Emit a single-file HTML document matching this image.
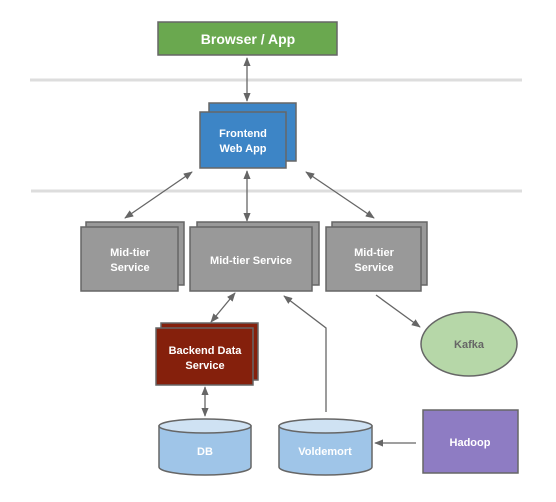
<!DOCTYPE html>
<html><head><meta charset="utf-8"><style>
html,body{margin:0;padding:0;background:#fff;}
svg text{font-family:"Liberation Sans",sans-serif;font-weight:bold;fill:#fff;text-anchor:middle;}
</style></head><body>
<svg width="556" height="497" viewBox="0 0 556 497" xmlns="http://www.w3.org/2000/svg">
<defs>
<marker id="a" viewBox="0 0 10 10" refX="9" refY="5" markerWidth="7" markerHeight="7" orient="auto-start-reverse">
<path d="M0,1 L10,5 L0,9 z" fill="#666"/></marker>
</defs>
<g stroke="#ddd" stroke-width="3">
<line x1="30" y1="80" x2="522" y2="80"/>
<line x1="31" y1="191" x2="522" y2="191"/>
</g>
<rect x="158" y="22" width="179" height="33" fill="#6aa84f" stroke="#666" stroke-width="1.5"/>
<text x="248" y="44" font-size="14">Browser / App</text>

<rect x="209" y="103" width="87" height="58" fill="#3d85c6" stroke="#666" stroke-width="1.5"/>
<rect x="200" y="112" width="86" height="56" fill="#3d85c6" stroke="#666" stroke-width="1.5"/>
<text x="243" y="137" font-size="11">Frontend</text>
<text x="243" y="152" font-size="11">Web App</text>

<g fill="#999" stroke="#666" stroke-width="1.5">
<rect x="86" y="222" width="98" height="63"/>
<rect x="81" y="227" width="97" height="64"/>
<rect x="197" y="222" width="122" height="63"/>
<rect x="190" y="227" width="122" height="64"/>
<rect x="332" y="222" width="95" height="63"/>
<rect x="326" y="227" width="95" height="64"/>
</g>
<text x="130" y="256" font-size="11">Mid-tier</text>
<text x="130" y="271" font-size="11">Service</text>
<text x="251" y="264" font-size="11">Mid-tier Service</text>
<text x="374" y="256" font-size="11">Mid-tier</text>
<text x="374" y="271" font-size="11">Service</text>

<rect x="161" y="323" width="97" height="57" fill="#85200c" stroke="#666" stroke-width="1.5"/>
<rect x="156" y="328" width="97" height="57" fill="#85200c" stroke="#666" stroke-width="1.5"/>
<text x="205" y="354" font-size="11">Backend Data</text>
<text x="205" y="369" font-size="11">Service</text>

<ellipse cx="469" cy="344" rx="48" ry="32" fill="#b6d7a8" stroke="#666" stroke-width="1.5"/>
<text x="469" y="348" font-size="11" style="fill:#666">Kafka</text>

<rect x="423" y="410" width="95" height="63" fill="#8e7cc3" stroke="#666" stroke-width="1.5"/>
<text x="470" y="446" font-size="11">Hadoop</text>

<g stroke="#666" stroke-width="1.5">
<path d="M159,426 L159,467 A46,8 0 0 0 251,467 L251,426 Z" fill="#9fc5e8"/>
<ellipse cx="205" cy="426" rx="46" ry="7" fill="#cfe2f3"/>
<path d="M279,426 L279,467 A46.5,8 0 0 0 372,467 L372,426 Z" fill="#9fc5e8"/>
<ellipse cx="325.5" cy="426" rx="46.5" ry="7" fill="#cfe2f3"/>
</g>
<text x="205" y="455" font-size="11">DB</text>
<text x="325" y="455" font-size="11">Voldemort</text>

<g stroke="#666" stroke-width="1.3" fill="none">
<line x1="247" y1="58" x2="247" y2="101" marker-start="url(#a)" marker-end="url(#a)"/>
<line x1="192" y1="172" x2="125" y2="218" marker-start="url(#a)" marker-end="url(#a)"/>
<line x1="247" y1="171" x2="247" y2="221" marker-start="url(#a)" marker-end="url(#a)"/>
<line x1="306" y1="172" x2="374" y2="218" marker-start="url(#a)" marker-end="url(#a)"/>
<line x1="235" y1="293" x2="211" y2="322" marker-start="url(#a)" marker-end="url(#a)"/>
<line x1="205" y1="387" x2="205" y2="416" marker-start="url(#a)" marker-end="url(#a)"/>
<polyline points="326,412 326,328 284,296" marker-end="url(#a)"/>
<line x1="376" y1="295" x2="420" y2="327" marker-end="url(#a)"/>
<line x1="416" y1="443" x2="375" y2="443" marker-end="url(#a)"/>
</g>
</svg>
</body></html>
